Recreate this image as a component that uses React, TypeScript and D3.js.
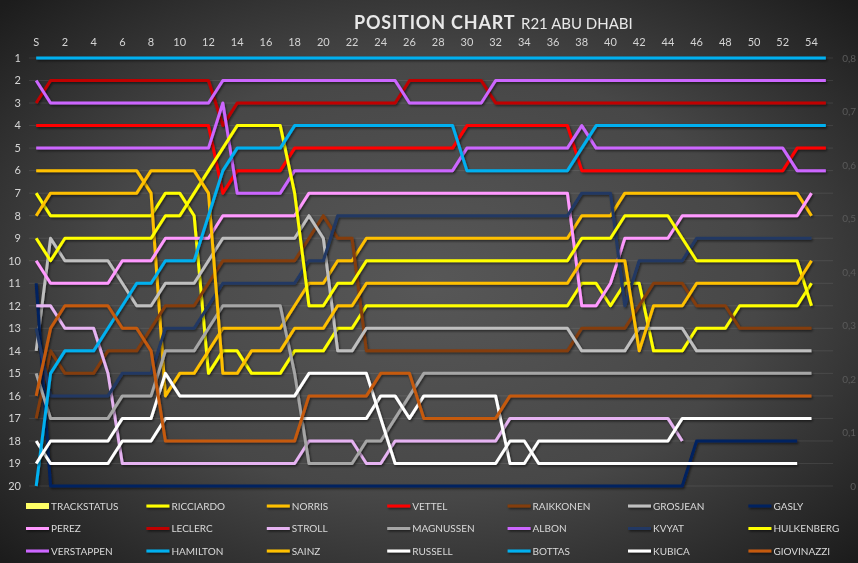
import React from "react";
import * as d3 from "d3";

const W = 858;
const H = 563;

// positions per lap (index 0 = start "S")
const HAMILTON = [1,1,1,1,1,1,1,1,1,1, 1,1,1,1,1,1,1,1,1,1, 1,1,1,1,1,1,1,1,1,1, 1,1,1,1,1,1,1,1,1,1, 1,1,1,1,1,1,1,1,1,1, 1,1,1,1,1,1];
const VERSTAPPEN = [2, 3,3,3,3,3,3,3,3,3,3,3,3, 2,2,2,2,2,2,2,2,2,2,2,2,2, 3,3,3,3,3,3, 2,2,2,2,2,2,2,2,2,2,2,2,2,2,2,2,2,2,2,2,2,2,2,2];
const LECLERC = [3, 2,2,2,2,2,2,2,2,2,2,2,2, 4, 3,3,3,3,3,3,3,3,3,3,3,3, 2,2,2,2,2,2, 3,3,3,3,3,3,3,3,3,3,3,3,3,3,3,3,3,3,3,3,3,3,3,3];
const BOTTAS = [20,15,14,14,14,13,12,11,11,10,10,10,8,6,5,5,5,5, 4,4,4,4,4,4,4,4,4,4,4,4, 6,6,6,6,6,6,6,6, 5, 4,4,4,4,4,4,4,4,4,4,4,4,4,4,4,4,4];
const VETTEL = [4,4,4,4,4,4,4,4,4,4,4,4,4, 7, 6,6,6,6, 5,5,5,5,5,5,5,5,5,5,5,5, 4,4,4,4,4,4,4,4, 6,6,6,6,6,6,6,6,6,6,6,6,6,6,6, 5,5,5];
const ALBON = [5,5,5,5,5,5,5,5,5,5,5,5,5, 3, 7,7,7,7, 6,6,6,6,6,6,6,6,6,6,6,6, 5,5,5,5,5,5,5,5, 4, 5,5,5,5,5,5,5,5,5,5,5,5,5,5, 6,6,6];
const PEREZ = [10, 11,11,11,11,11, 10,10,10, 9,9,9,9, 8,8,8,8,8,8, 7,7,7,7,7,7,7,7,7,7,7,7,7,7,7,7,7,7,7, 12,12,11, 9,9,9,9, 8,8,8,8,8,8,8,8,8, 7];
const STROLL = [12,12,13,13,13,15, 19,19,19,19,19,19,19,19,19,19,19,19,19, 18,18,18,18, 19,19, 18,18,18,18,18,18,18,18, 17,17,17,17,17,17,17,17,17,17,17,17, 18];
const GROSJEAN = [14,9,10,10,10,10,11,12,12,11,11,11,10, 9,9,9,9,9,9, 8,9,14,14, 13,13,13,13,13,13,13,13,13,13,13,13,13,13,13, 14,14,14,14, 13,13,13,13, 14,14,14,14,14,14,14,14,14];
const MAGNUSSEN = [15, 17,17,17,17,17, 16,16,16, 14,14,14, 13, 12,12,12,12,12, 15, 19,19,19,19, 18,18,17,16, 15,15,15,15,15,15,15,15,15,15,15,15,15,15,15,15,15,15,15,15,15,15,15,15,15,15,15,15];
const RAIKKONEN = [17,14,15,15,15,14,14,14,13,12,12,12,11, 10,10,10,10,10,10, 9,8,9,9, 14,14,14,14,14,14,14,14,14,14,14,14,14,14,14, 13,13,13,13, 12, 11,11,11, 12,12,12, 13,13,13,13,13,13];
const GIOVINAZZI = [16,13,12,12,12,12,13,13,14, 18,18,18,18,18,18,18,18,18,18, 16,16,16,16,16, 15,15,15, 17,17,17,17,17,17, 16,16,16,16,16,16,16,16,16,16,16,16,16,16,16,16,16,16,16,16,16,16];
const GASLY = [11, 20,20,20,20,20,20,20,20,20,20,20,20,20,20,20,20,20,20,20,20,20,20,20,20,20,20,20,20,20,20,20,20,20,20,20,20,20,20,20,20,20,20,20,20,20, 18,18,18,18,18,18,18,18];
const KVYAT = [13, 16,16,16,16,16, 15,15,15, 13,13,13, 12, 11,11,11,11,11,11, 10,10, 8,8,8,8,8,8,8,8,8,8,8,8,8,8,8,8,8, 7,7,7, 12, 10,10,10,10, 9,9,9,9,9,9,9,9,9];
const NORRIS = [6,6,6,6,6,6,6,6, 7, 16,15,15,14, 13,13,13,13,13, 12,11,11,10,10, 9,9,9,9,9,9,9,9,9,9,9,9,9,9,9, 8,8,8, 7,7,7,7,7,7,7,7,7,7,7,7,7, 8];
const SAINZ = [8, 7,7,7,7,7,7,7, 6,6,6,6, 7, 15,15, 14,14,14, 13,13,13,12,12, 11,11,11,11,11,11,11,11,11,11,11,11,11,11,11, 10,10,10,10, 14, 12,12,12, 11,11,11,11,11,11,11,11, 10];
const RICCIARDO = [7, 8,8,8,8,8,8,8,8, 7,7,8, 15,14,14, 15,15,15, 14,14,14, 13,13, 12,12,12,12,12,12,12,12,12,12,12,12,12,12,12, 11,11,12,11,11, 14,14,14, 13,13,13, 12,12,12,12,12, 11];
const HULKENBERG = [9,10, 9,9,9,9,9,9,9, 8,8,7,6,5, 4,4,4,4, 7, 12,12,11,11, 10,10,10,10,10,10,10,10,10,10,10,10,10,10,10, 9,9,9, 8,8,8,8, 9, 10,10,10,10,10,10,10,10, 12];
const RUSSELL = [18, 19,19,19,19,19, 18,18,18, 17,17,17,17,17,17,17,17,17,17,17,17,17,17,17, 16,16,17, 16,16,16,16,16,16, 19,19, 18,18,18,18,18,18,18,18,18,18, 17,17,17,17,17,17,17,17,17,17];
const KUBICA = [19, 18,18,18,18,18, 17,17,17, 15, 16,16,16,16,16,16,16,16,16, 15,15,15,15,15, 17, 19,19,19,19,19,19,19,19, 18,18, 19,19,19,19,19,19,19,19,19,19,19,19,19,19,19,19,19,19,19];

const LAPS = ["S","1","2","3","4","5","6","7","8","9","10","11","12","13","14","15","16","17","18","19","20","21","22","23","24","25","26","27","28","29","30","31","32","33","34","35","36","37","38","39","40","41","42","43","44","45","46","47","48","49","50","51","52","53","54","55"];
const X_TICKS = ["S","2","4","6","8","10","12","14","16","18","20","22","24","26","28","30","32","34","36","38","40","42","44","46","48","50","52","54"];
const Y_TICKS = [1,2,3,4,5,6,7,8,9,10,11,12,13,14,15,16,17,18,19,20];
const RIGHT_TICKS = [0,0.1,0.2,0.3,0.4,0.5,0.6,0.7,0.8];
const RIGHT_LABELS = ["0","0,1","0,2","0,3","0,4","0,5","0,6","0,7","0,8"];

const SERIES_NAMES = ["TRACKSTATUS","RICCIARDO","NORRIS","VETTEL","RAIKKONEN","GROSJEAN","GASLY","PEREZ","LECLERC","STROLL","MAGNUSSEN","ALBON","KVYAT","HULKENBERG","VERSTAPPEN","HAMILTON","SAINZ","RUSSELL","BOTTAS","KUBICA","GIOVINAZZI"];
const SERIES_COLORS = ["#ffff66","#ffff00","#ffc000","#ff0000","#843c0c","#bfbfbf","#002060","#ff99ff","#c00000","#e6b3f2","#a6a6a6","#cc66ff","#203864","#ffff00","#cc66ff","#00b0f0","#ffc000","#ffffff","#00b0f0","#ffffff","#c55a11"];
const SERIES_DATA: (number[] | null)[] = [null, RICCIARDO, NORRIS, VETTEL, RAIKKONEN, GROSJEAN, GASLY, PEREZ, LECLERC, STROLL, MAGNUSSEN, ALBON, KVYAT, HULKENBERG, VERSTAPPEN, HAMILTON, SAINZ, RUSSELL, BOTTAS, KUBICA, GIOVINAZZI];

export default function App() {
  const x = d3.scalePoint<string>().domain(LAPS).range([29, 833]).padding(0.5);
  const y = d3.scaleLinear().domain([1, 20]).range([58, 486]);
  const yr = d3.scaleLinear().domain([0, 0.8]).range([486, 58]);
  const font = "Lato, 'Open Sans', sans-serif";

  const line = d3
    .line<number>()
    .x((_, i) => x(LAPS[i]) as number)
    .y((d) => y(d));

  return (
    <svg
      width={W}
      height={H}
      style={{ position: "fixed", left: 0, top: 0, display: "block" }}
      fontFamily={font}
    >
      <defs>
        <radialGradient id="bg" cx="50%" cy="50%" r="70%">
          <stop offset="0%" stopColor="#575757" />
          <stop offset="55%" stopColor="#474747" />
          <stop offset="100%" stopColor="#1c1c1c" />
        </radialGradient>
        <filter id="sh" filterUnits="userSpaceOnUse" x={0} y={0} width={W} height={H}>
          <feDropShadow dx="1.2" dy="1.5" stdDeviation="1" floodColor="#000" floodOpacity="0.55" />
        </filter>
      </defs>
      <rect x={0} y={0} width={W} height={H} fill="url(#bg)" />

      {/* title */}
      <text x={354} y={29} fill="#e8e8e8" fontSize={18} fontWeight="bold" letterSpacing={0.8}>
        POSITION CHART
      </text>
      <text x={521} y={29} fill="#e8e8e8" fontSize={15}>
        R21 ABU DHABI
      </text>

      {/* gridlines */}
      {Y_TICKS.map((p) => (
        <line key={"g" + p} x1={29} x2={833} y1={y(p)} y2={y(p)} stroke="#ffffff" strokeOpacity={0.09} strokeWidth={1} />
      ))}

      {/* left axis */}
      {Y_TICKS.map((p) => (
        <text key={"yl" + p} x={21} y={y(p)} dy="0.35em" textAnchor="end" fill="#d4d4d4" fontSize={11}>
          {p}
        </text>
      ))}

      {/* right axis */}
      {RIGHT_TICKS.map((v, i) => (
        <text key={"yr" + i} x={856} y={yr(v)} dy="0.35em" textAnchor="end" fill="#5a5a5a" fontSize={10}>
          {RIGHT_LABELS[i]}
        </text>
      ))}

      {/* top axis */}
      {X_TICKS.map((t) => (
        <text key={"xt" + t} x={x(t) as number} y={46} textAnchor="middle" fill="#d4d4d4" fontSize={11}>
          {t}
        </text>
      ))}

      {/* series */}
      {SERIES_DATA.map((d, i) =>
        d ? (
          <path
            key={"s" + i}
            d={line(d) || ""}
            fill="none"
            stroke={SERIES_COLORS[i]}
            strokeWidth={3}
            strokeLinejoin="round"
            filter="url(#sh)"
          />
        ) : null
      )}

      {/* legend */}
      {SERIES_NAMES.map((name, i) => {
        const col = i % 7;
        const row = Math.floor(i / 7);
        const lx = 26 + col * 120.4;
        const ly = 506 + row * 22.5;
        return (
          <g key={"lg" + i}>
            {i === 0 ? (
              <rect x={lx} y={ly - 3} width={23} height={6} fill={SERIES_COLORS[i]} />
            ) : (
              <line x1={lx} x2={lx + 23} y1={ly} y2={ly} stroke={SERIES_COLORS[i]} strokeWidth={3} filter="url(#sh)" />
            )}
            <text x={lx + 25} y={ly} dy="0.36em" fill="#d9d9d9" fontSize={10}>
              {name}
            </text>
          </g>
        );
      })}
    </svg>
  );
}
